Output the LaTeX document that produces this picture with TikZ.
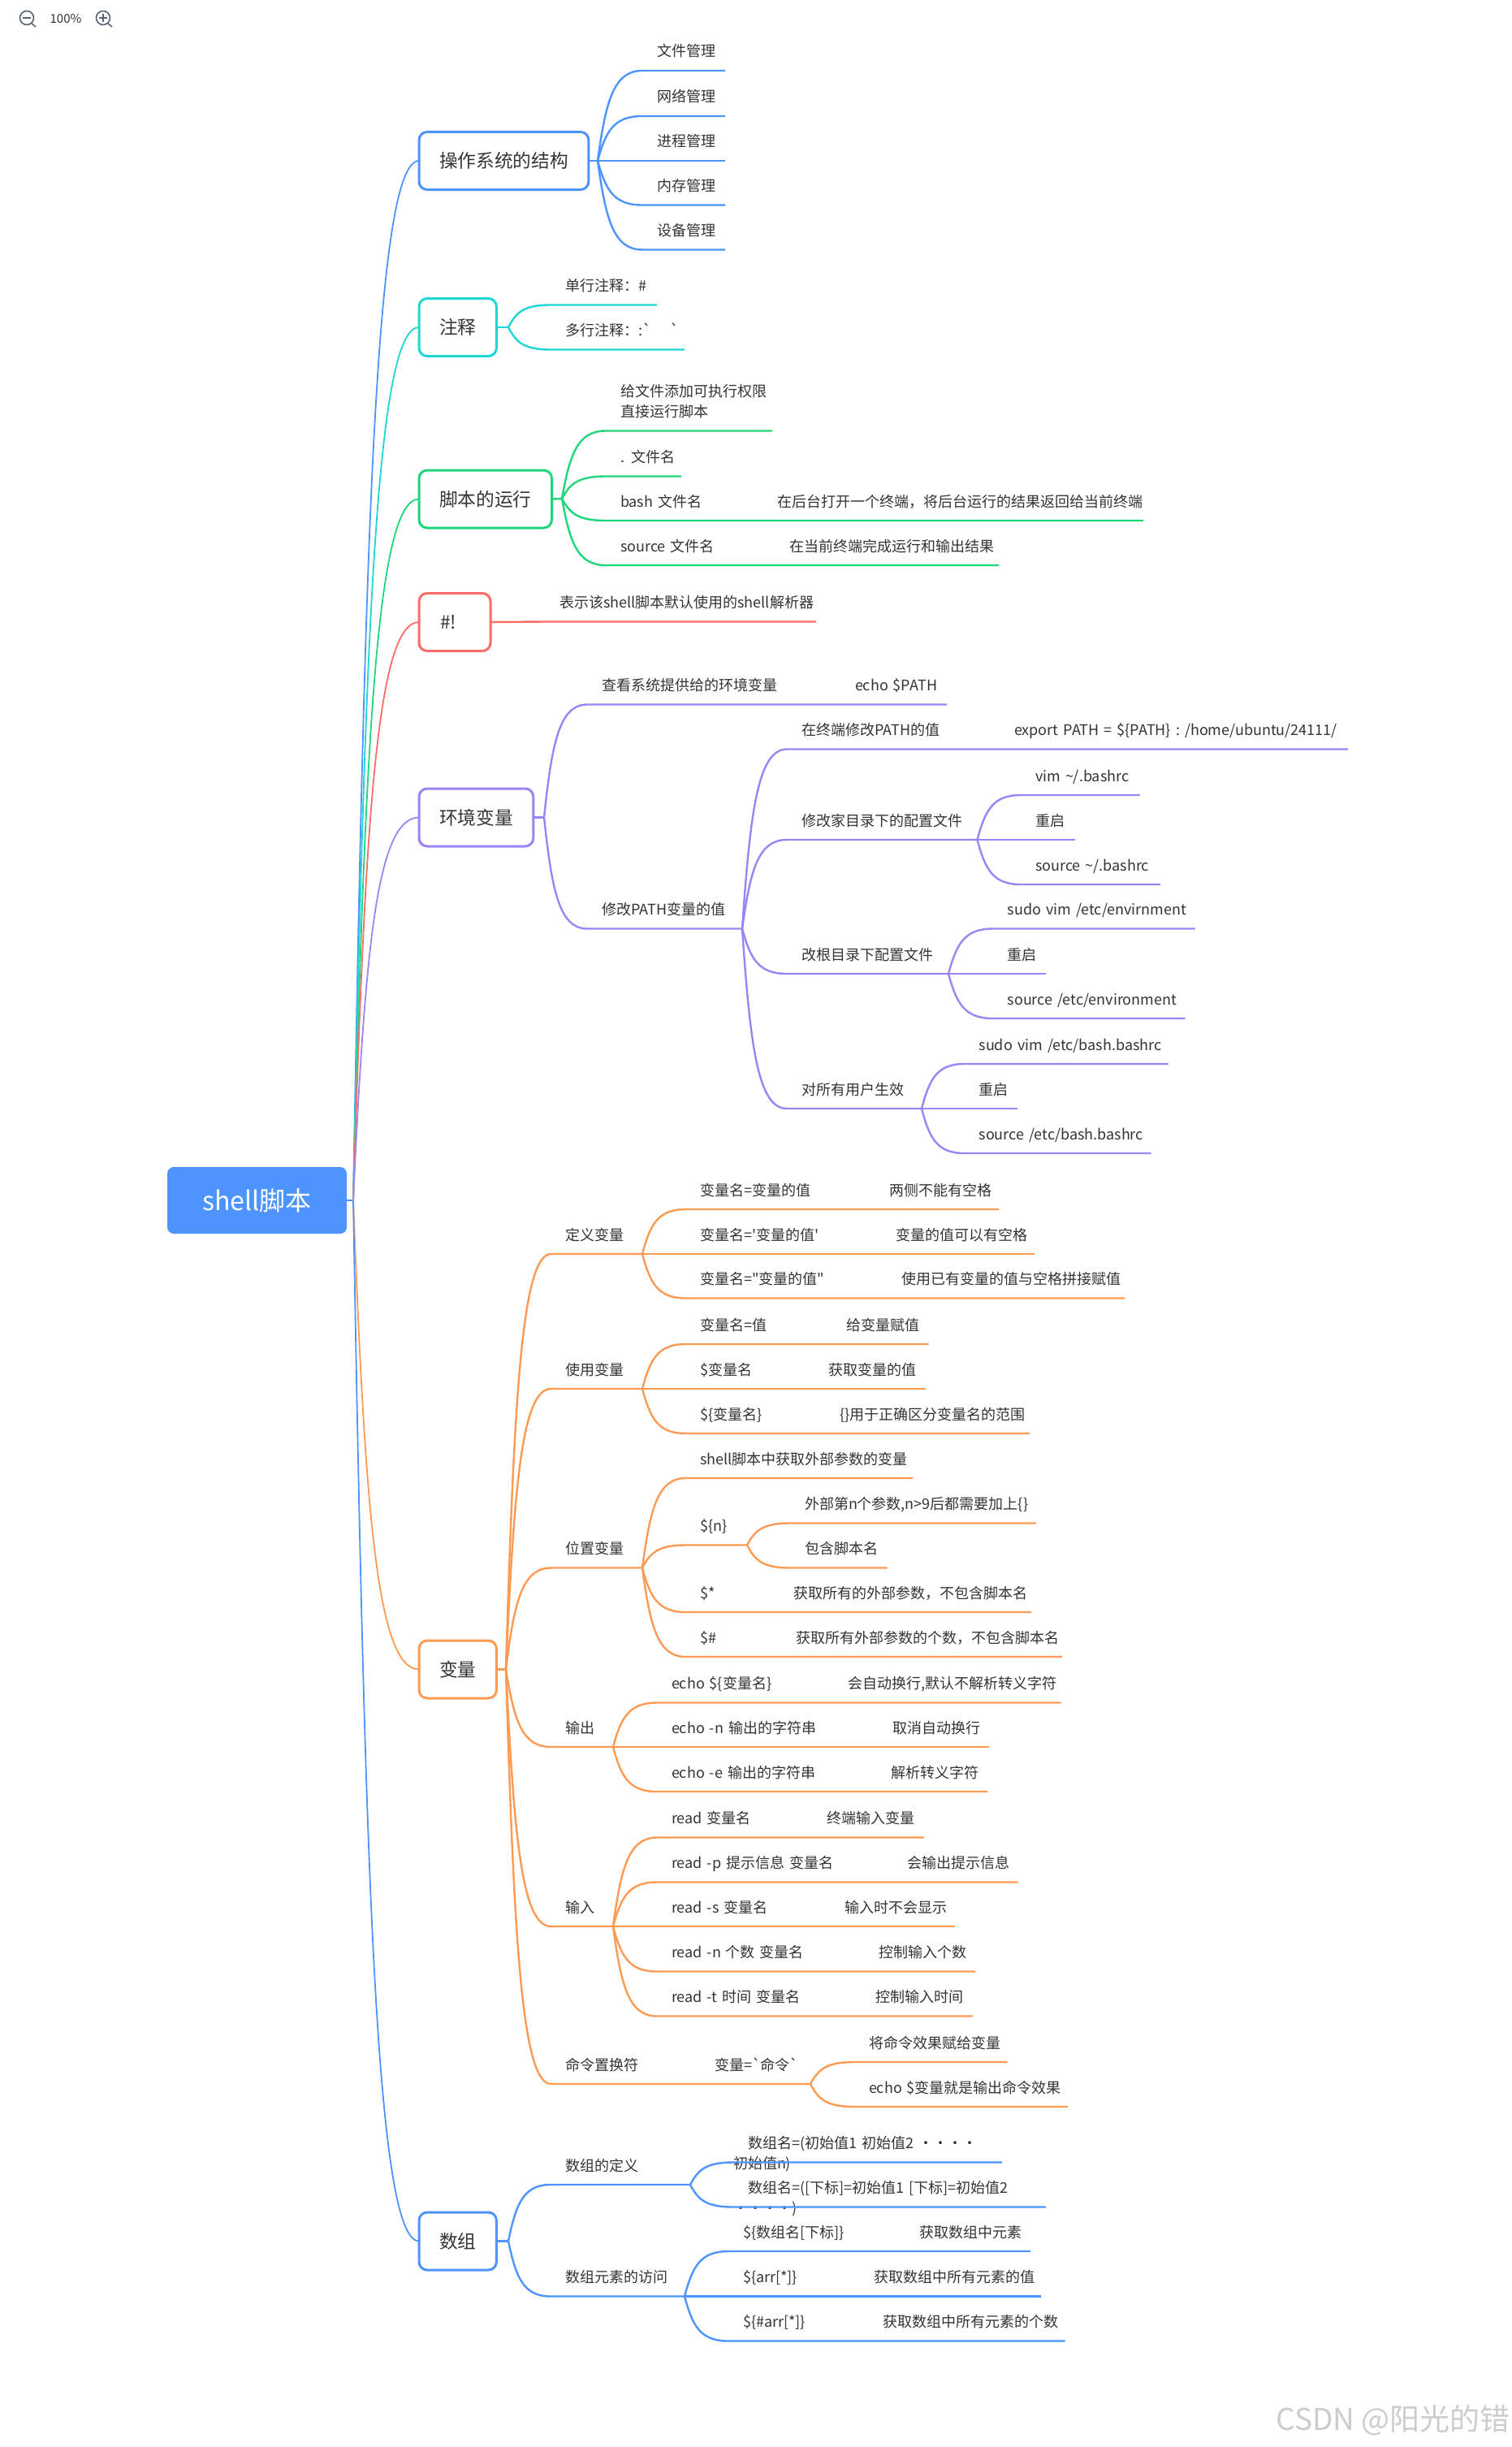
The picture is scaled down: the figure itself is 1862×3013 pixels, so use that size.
\documentclass[tikz,border=0pt]{standalone}
\usepackage{fontspec}
\usetikzlibrary{calc}
\newfontfamily\cnfont{Noto Sans CJK SC}
\definecolor{cblue}{HTML}{4D94FF}
\definecolor{ccyan}{HTML}{1FD6D6}
\definecolor{cgreen}{HTML}{1FD67A}
\definecolor{cred}{HTML}{FF6B66}
\definecolor{cpurple}{HTML}{9B84F5}
\definecolor{corange}{HTML}{FF9A52}
\definecolor{ctext}{HTML}{333333}
\definecolor{cwater}{HTML}{CCCCCC}
\definecolor{ctool}{HTML}{5A6478}
\tikzset{
	root/.style={anchor=west,fill=cblue,text=white,rounded corners=8pt,outer sep=0pt,minimum width=221pt,minimum height=82pt,font=\cnfont\fontsize{32}{38}\selectfont},
	topic/.style={anchor=west,draw,line width=3pt,text=ctext,rounded corners=10pt,outer sep=0pt,inner xsep=25pt,minimum height=71pt,font=\cnfont\fontsize{22.7}{27}\selectfont},
	leaf/.style={anchor=south west,outer sep=0pt,inner xsep=0pt,inner ysep=17pt,text=ctext,text width=#1pt,align=left,text depth=0pt,execute at begin node={\leavevmode\kern18pt},font=\cnfont\fontsize{18}{25}\selectfont},
	link/.style={line width=2.4pt,line join=round},
	trunk/.style={line width=1.8pt},
	branch/.style={to path={let \p1=(\tikztostart),\p2=(\tikztotarget) in .. controls ({\x1+0.18*(\x2-\x1)},{\y1+0.65*(\y2-\y1)}) and ({\x1+0.35*(\x2-\x1)},\y2) .. (\p2) \tikztonodes}},
	tool/.style={draw=ctool,line width=1.6pt}
}
\begin{document}
\begin{tikzpicture}[x=1pt,y=-1pt]
	\useasboundingbox (0,0) rectangle (1862,3013);

	\draw[tool] (33,22) circle (8.5pt) (28,22)--(38,22) (39,29)--(44,33);
	\draw[tool] (127,22) circle (8.5pt) (122,22)--(132,22) (127,17)--(127,27) (133,29)--(138,33);
	\node[text=ctext,font=\cnfont\fontsize{15}{18}\selectfont] (zoomtxt) at (81,23.5) {100\%};

	\node[root] (main) at (206,1478) {shell脚本};
	\coordinate (mainf) at (435,1478);

	\begin{scope}[color=cblue]
		\draw[link] (main.east)--(mainf);
		\node[topic] (os) at (516,198) {操作系统的结构};
		\coordinate (osf) at (736,198);
		\node[leaf=102] (os1) at (791,87) {文件管理};
		\node[leaf=102] (os2) at (791,143) {网络管理};
		\node[leaf=102] (os3) at (791,198) {进程管理};
		\node[leaf=102] (os4) at (791,252.5) {内存管理};
		\node[leaf=102] (os5) at (791,307.5) {设备管理};
		\draw[trunk] (mainf) to[branch] (os.west);
		\draw[link] (os.east)--(osf);
		\draw[link] (osf) to[branch] (os1.south west)--(os1.south east);
		\draw[link] (osf) to[branch] (os2.south west)--(os2.south east);
		\draw[link] (osf)--(os3.south west)--(os3.south east);
		\draw[link] (osf) to[branch] (os4.south west)--(os4.south east);
		\draw[link] (osf) to[branch] (os5.south west)--(os5.south east);
	\end{scope}

	\begin{scope}[color=ccyan]
		\node[topic] (note) at (516,403) {注释};
		\coordinate (notef) at (626,403);
		\node[leaf=131] (note1) at (678,375.5) {单行注释：\#};
		\node[leaf=165] (note2) at (678,430.5) {多行注释：:`\hspace{24pt}`};
		\draw[trunk] (mainf) to[branch] (note.west);
		\draw[link] (note.east)--(notef);
		\draw[link] (notef) to[branch] (note1.south west)--(note1.south east);
		\draw[link] (notef) to[branch] (note2.south west)--(note2.south east);
	\end{scope}

	\begin{scope}[color=cgreen]
		\node[topic] (run) at (516,614.5) {脚本的运行};
		\coordinate (runf) at (692,614);
		\node[leaf=205,text depth=25pt,inner ysep=17pt] (run1) at (746,530.5) {给文件添加可执行权限\\\hspace*{18pt}直接运行脚本};
		\node[leaf=93] (run2) at (746,586.5) {. 文件名};
		\node[leaf=193] (run3) at (746,641) {bash 文件名};
		\node[leaf=469] (run3b) at (run3.south east) {在后台打开一个终端，将后台运行的结果返回给当前终端};
		\node[leaf=208] (run4) at (746,696) {source 文件名};
		\node[leaf=276] (run4b) at (run4.south east) {在当前终端完成运行和输出结果};
		\draw[trunk] (mainf) to[branch] (run.west);
		\draw[link] (run.east)--(runf);
		\draw[link] (runf) to[branch] (run1.south west)--(run1.south east);
		\draw[link] (runf) to[branch] (run2.south west)--(run2.south east);
		\draw[link] (runf) to[branch] (run3.south west)--(run3b.south east);
		\draw[link] (runf) to[branch] (run4.south west)--(run4b.south east);
	\end{scope}

	\begin{scope}[color=cred]
		\node[topic,minimum width=88pt] (hash) at (516,766) {\#!\hspace*{16pt}};
		\node[leaf=334] (hash1) at (671,765.5) {表示该shell脚本默认使用的shell解析器};
		\draw[trunk] (mainf) to[branch] (hash.west);
		\draw[link] (hash.east)--(hash1.south west)--(hash1.south east);
	\end{scope}

	\begin{scope}[color=cpurple]
		\node[topic] (env) at (516,1006.5) {环境变量};
		\coordinate (envf) at (670,1006.5);
		\node[leaf=312] (env1) at (723,867.5) {查看系统提供给的环境变量};
		\node[leaf=131] (env1b) at (env1.south east) {echo \$PATH};
		\node[leaf=191] (env2) at (723,1143.5) {修改PATH变量的值};
		\node[leaf=262] (env21) at (969,922.5) {在终端修改PATH的值};
		\node[leaf=429] (env21b) at (env21.south east) {export PATH = \$\{PATH\} : /home/ubuntu/24111/};
		\node[leaf=234.5] (env22) at (969,1034) {修改家目录下的配置文件};
		\node[leaf=199] (env23) at (969,1199) {改根目录下配置文件};
		\node[leaf=166] (env24) at (969,1365) {对所有用户生效};
		\node[leaf=146.5] (env221) at (1257,979) {vim \textasciitilde/.bashrc};
		\node[leaf=66.5] (env222) at (1257,1034) {重启};
		\node[leaf=172] (env223) at (1257,1089) {source \textasciitilde/.bashrc};
		\node[leaf=249] (env231) at (1222.7,1143.5) {sudo vim /etc/envirnment};
		\node[leaf=65] (env232) at (1222.7,1199) {重启};
		\node[leaf=237] (env233) at (1222.7,1254) {source /etc/environment};
		\node[leaf=251] (env241) at (1187.6,1310) {sudo vim /etc/bash.bashrc};
		\node[leaf=65.4] (env242) at (1187.6,1365) {重启};
		\node[leaf=230] (env243) at (1187.6,1420) {source /etc/bash.bashrc};
		\draw[trunk] (mainf) to[branch] (env.west);
		\draw[link] (env.east)--(envf);
		\draw[link] (envf) to[branch] (env1.south west)--(env1b.south east);
		\draw[link] (envf) to[branch] (env2.south west)--(env2.south east);
		\draw[link] (env2.south east) to[branch] (env21.south west)--(env21b.south east);
		\draw[link] (env2.south east) to[branch] (env22.south west)--(env22.south east);
		\draw[link] (env2.south east) to[branch] (env23.south west)--(env23.south east);
		\draw[link] (env2.south east) to[branch] (env24.south west)--(env24.south east);
		\draw[link] (env22.south east) to[branch] (env221.south west)--(env221.south east);
		\draw[link] (env22.south east)--(env222.south east);
		\draw[link] (env22.south east) to[branch] (env223.south west)--(env223.south east);
		\draw[link] (env23.south east) to[branch] (env231.south west)--(env231.south east);
		\draw[link] (env23.south east)--(env232.south east);
		\draw[link] (env23.south east) to[branch] (env233.south west)--(env233.south east);
		\draw[link] (env24.south east) to[branch] (env241.south west)--(env241.south east);
		\draw[link] (env24.south east)--(env242.south east);
		\draw[link] (env24.south east) to[branch] (env243.south west)--(env243.south east);
	\end{scope}

	\begin{scope}[color=corange]
		\node[topic] (var) at (516,2055.5) {变量};
		\coordinate (varf) at (623,2055.5);
		\node[leaf=112.4] (def) at (678.6,1544) {定义变量};
		\node[leaf=112.4] (use) at (678.6,1710) {使用变量};
		\node[leaf=112.4] (pos) at (678.6,1930.5) {位置变量};
		\node[leaf=76.4] (out) at (678.6,2151) {输出};
		\node[leaf=76.4] (in1) at (678.6,2372) {输入};
		\node[leaf=183.4] (cmd) at (678.6,2566) {命令置换符};
		\node[leaf=136] (cmdb) at (cmd.south east) {变量=`命令`};
		\node[leaf=232.6] (def1) at (844.4,1489) {变量名=变量的值};
		\node[leaf=153] (def1b) at (def1.south east) {两侧不能有空格};
		\node[leaf=241] (def2) at (844.4,1544) {变量名='变量的值'};
		\node[leaf=188.5] (def2b) at (def2.south east) {变量的值可以有空格};
		\node[leaf=247.6] (def3) at (844.4,1598.5) {变量名="变量的值"};
		\node[leaf=293] (def3b) at (def3.south east) {使用已有变量的值与空格拼接赋值};
		\node[leaf=179.6] (use1) at (844.4,1655) {变量名=值};
		\node[leaf=119.6] (use1b) at (use1.south east) {给变量赋值};
		\node[leaf=158.2] (use2) at (844.4,1710) {\$变量名};
		\node[leaf=137.4] (use2b) at (use2.south east) {获取变量的值};
		\node[leaf=172.2] (use3) at (844.4,1765) {\$\{变量名\}};
		\node[leaf=251.4] (use3b) at (use3.south east) {\{\}用于正确区分变量名的范围};
		\node[leaf=280] (pos1) at (844.4,1820) {shell脚本中获取外部参数的变量};
		\node[leaf=75.6] (pos2) at (844.4,1902.5) {\$\{n\}};
		\node[leaf=303] (pos21) at (973,1875.5) {外部第n个参数,n>9后都需要加上\{\}};
		\node[leaf=119.6] (pos22) at (973,1930.5) {包含脚本名};
		\node[leaf=114.6] (pos3) at (844.4,1985) {\$*};
		\node[leaf=311] (pos3b) at (pos3.south east) {获取所有的外部参数，不包含脚本名};
		\node[leaf=117.6] (pos4) at (844.4,2040) {\$\#};
		\node[leaf=346] (pos4b) at (pos4.south east) {获取所有外部参数的个数，不包含脚本名};
		\node[leaf=217] (out1) at (809,2096.5) {echo \$\{变量名\}};
		\node[leaf=280.5] (out1b) at (out1.south east) {会自动换行,默认不解析转义字符};
		\node[leaf=272] (out2) at (809,2151) {echo -n 输出的字符串};
		\node[leaf=136.6] (out2b) at (out2.south east) {取消自动换行};
		\node[leaf=270] (out3) at (809,2206) {echo -e 输出的字符串};
		\node[leaf=137] (out3b) at (out3.south east) {解析转义字符};
		\node[leaf=191] (in11) at (809,2262.5) {read 变量名};
		\node[leaf=137.8] (in11b) at (in11.south east) {终端输入变量};
		\node[leaf=290.7] (in12) at (809,2317.5) {read -p 提示信息 变量名};
		\node[leaf=154] (in12b) at (in12.south east) {会输出提示信息};
		\node[leaf=213] (in13) at (809,2372) {read -s 变量名};
		\node[leaf=154] (in13b) at (in13.south east) {输入时不会显示};
		\node[leaf=255.7] (in14) at (809,2427.5) {read -n 个数 变量名};
		\node[leaf=136.3] (in14b) at (in14.south east) {控制输入个数};
		\node[leaf=251.6] (in15) at (809,2482.5) {read -t 时间 变量名};
		\node[leaf=137] (in15b) at (in15.south east) {控制输入时间};
		\node[leaf=188.5] (cmd1) at (1052,2539) {将命令效果赋给变量};
		\node[leaf=263] (cmd2) at (1052,2594) {echo \$变量就是输出命令效果};
		\draw[trunk] (mainf) to[branch] (var.west);
		\draw[link] (var.east)--(varf);
		\draw[link] (varf) to[branch] (def.south west)--(def.south east);
		\draw[link] (varf) to[branch] (use.south west)--(use.south east);
		\draw[link] (varf) to[branch] (pos.south west)--(pos.south east);
		\draw[link] (varf) to[branch] (out.south west)--(out.south east);
		\draw[link] (varf) to[branch] (in1.south west)--(in1.south east);
		\draw[link] (varf) to[branch] (cmd.south west)--(cmdb.south east);
		\draw[link] (def.south east) to[branch] (def1.south west)--(def1b.south east);
		\draw[link] (def.south east)--(def2b.south east);
		\draw[link] (def.south east) to[branch] (def3.south west)--(def3b.south east);
		\draw[link] (use.south east) to[branch] (use1.south west)--(use1b.south east);
		\draw[link] (use.south east)--(use2b.south east);
		\draw[link] (use.south east) to[branch] (use3.south west)--(use3b.south east);
		\draw[link] (pos.south east) to[branch] (pos1.south west)--(pos1.south east);
		\draw[link] (pos.south east) to[branch] (pos2.south west)--(pos2.south east);
		\draw[link] (pos2.south east) to[branch] (pos21.south west)--(pos21.south east);
		\draw[link] (pos2.south east) to[branch] (pos22.south west)--(pos22.south east);
		\draw[link] (pos.south east) to[branch] (pos3.south west)--(pos3b.south east);
		\draw[link] (pos.south east) to[branch] (pos4.south west)--(pos4b.south east);
		\draw[link] (out.south east) to[branch] (out1.south west)--(out1b.south east);
		\draw[link] (out.south east)--(out2b.south east);
		\draw[link] (out.south east) to[branch] (out3.south west)--(out3b.south east);
		\draw[link] (in1.south east) to[branch] (in11.south west)--(in11b.south east);
		\draw[link] (in1.south east) to[branch] (in12.south west)--(in12b.south east);
		\draw[link] (in1.south east)--(in13b.south east);
		\draw[link] (in1.south east) to[branch] (in14.south west)--(in14b.south east);
		\draw[link] (in1.south east) to[branch] (in15.south west)--(in15b.south east);
		\draw[link] (cmdb.south east) to[branch] (cmd1.south west)--(cmd1.south east);
		\draw[link] (cmdb.south east) to[branch] (cmd2.south west)--(cmd2.south east);
	\end{scope}

	\begin{scope}[color=cblue]
		\node[topic] (arr) at (516,2759.5) {数组};
		\coordinate (arrf) at (626,2759.5);
		\node[leaf=172] (arr1) at (678,2690) {数组的定义};
		\node[leaf=165] (arr2) at (678,2827.5) {数组元素的访问};
		\node[leaf=331] (arr11) at (903,2662.5) {数组名=(初始值1 初始值2 ···· 初始值n)};
		\node[leaf=385] (arr12) at (903,2717.5) {数组名=([下标]=初始值1 [下标]=初始值2 ····)};
		\node[leaf=217.5] (arr21) at (897,2772) {\$\{数组名[下标]\}};
		\node[leaf=154.5] (arr21b) at (arr21.south east) {获取数组中元素};
		\node[leaf=161] (arr22) at (897,2827.5) {\$\{arr[*]\}};
		\node[leaf=224] (arr22b) at (arr22.south east) {获取数组中所有元素的值};
		\node[leaf=172] (arr23) at (897,2882.5) {\$\{\#arr[*]\}};
		\node[leaf=242.5] (arr23b) at (arr23.south east) {获取数组中所有元素的个数};
		\draw[trunk] (mainf) to[branch] (arr.west);
		\draw[link] (arr.east)--(arrf);
		\draw[link] (arrf) to[branch] (arr1.south west)--(arr1.south east);
		\draw[link] (arrf) to[branch] (arr2.south west)--(arr2.south east);
		\draw[link] (arr1.south east) to[branch] (arr11.south west)--(arr11.south east);
		\draw[link] (arr1.south east) to[branch] (arr12.south west)--(arr12.south east);
		\draw[link] (arr2.south east) to[branch] (arr21.south west)--(arr21b.south east);
		\draw[link] (arr2.south east)--(arr22b.south east);
		\draw[link] (arr2.south east) to[branch] (arr23.south west)--(arr23b.south east);
	\end{scope}

	\node[anchor=east,inner sep=0pt,text=cwater,font=\cnfont\fontsize{37}{44}\selectfont] (mark) at (1860,2980) {CSDN @阳光的错};
\end{tikzpicture}
\end{document}
